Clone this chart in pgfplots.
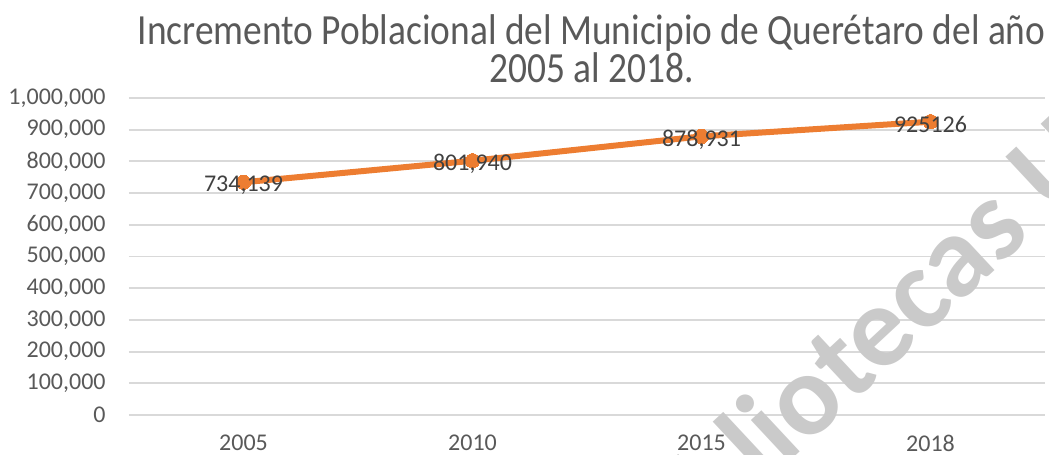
\documentclass[border=0pt]{standalone}
\usepackage{fontspec}
\setmainfont{Carlito}
\usepackage{graphicx}
\usepackage{pgfplots}
\pgfplotsset{compat=1.18}
\definecolor{orangeL}{HTML}{ED7D31}
\definecolor{gridc}{HTML}{D9D9D9}
\definecolor{tickc}{HTML}{595959}
\definecolor{labc}{HTML}{404040}
\definecolor{wmark}{HTML}{CACACA}
\begin{document}
\begin{tikzpicture}
\useasboundingbox (-64.5bp,-20bp) rectangle (460bp,207.5bp);
\begin{axis}[
  scale only axis, width=458bp, height=158.5bp,
  xmin=-0.5, xmax=3.5, ymin=0, ymax=1000000,
  xtick={0,1,2,3}, xticklabels={2005,2010,2015,2018},
  ytick={0,100000,200000,300000,400000,500000,600000,700000,800000,900000,1000000},
  scaled y ticks=false,
  y tick label style={/pgf/number format/fixed, /pgf/number format/precision=0, /pgf/number format/1000 sep={,}, /pgf/number format/assume math mode=true},
  axis line style={draw=none}, major tick length=0pt,
  ymajorgrids, grid style={gridc, line width=0.9bp},
  tick label style={font=\fontsize{12bp}{14bp}\selectfont, text=tickc},
  yticklabel style={anchor=east, inner sep=0pt, xshift=-11.5bp},
  xticklabel style={anchor=north, inner sep=0pt, yshift=-10bp},
  clip=false,
]
\addplot[orangeL, line width=3bp, mark=*, mark size=3.6bp,
  mark options={fill=orangeL, draw=orangeL, line width=0pt},
  nodes near coords, point meta=explicit symbolic,
  nodes near coords align=center,
  every node near coord/.append style={anchor=center, inner sep=0pt, font=\fontsize{12bp}{14bp}\selectfont, text=labc, yshift=-1.5bp}]
  table[meta=lab] {
x y lab
0 734139 734,139
1 801940 801,940
2 878931 878,931
3 925126 925126
};
\end{axis}
\node[anchor=base, text=tickc, font=\fontsize{21.5bp}{24bp}\selectfont, inner sep=0pt] at (231.3bp,185bp) {\scalebox{0.87}[1]{Incremento Poblacional del Municipio de Querétaro del año}};
\node[anchor=base, text=tickc, font=\fontsize{21.5bp}{24bp}\selectfont, inner sep=0pt] at (231.3bp,166bp) {\scalebox{0.87}[1]{2005 al 2018.}};
\node[rotate=43, anchor=base east, text=wmark, font=\fontsize{58bp}{58bp}\selectfont\bfseries, inner sep=0pt] at (452bp,90bp) {Bibliotecas};
\node[rotate=43, anchor=base west, text=wmark, font=\fontsize{58bp}{58bp}\selectfont\bfseries, inner sep=0pt] at (452bp,90bp) {\ UAQ};
\end{tikzpicture}
\end{document}
